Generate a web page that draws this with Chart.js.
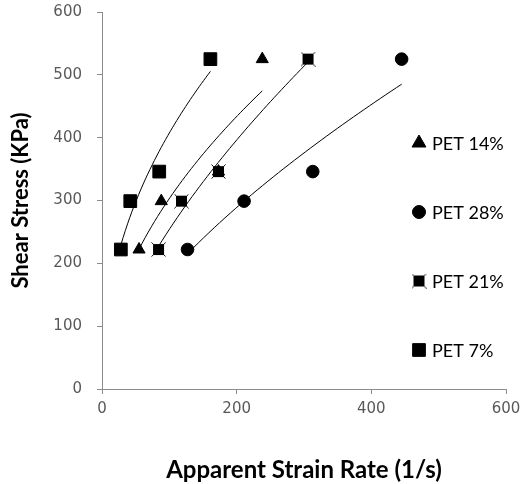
<!DOCTYPE html>
<html>
<head>
<meta charset="utf-8">
<script src="https://cdn.jsdelivr.net/npm/chart.js@4.4.1/dist/chart.umd.min.js"></script>
<style>
  html, body { margin: 0; padding: 0; background: #fff; }
  #wrap { width: 527px; height: 484px; position: relative; }
</style>
</head>
<body>
<div id="wrap"><canvas id="chart" width="527" height="484"></canvas></div>
<script>
document.addEventListener("DOMContentLoaded", function () {

  // shear stress levels (KPa), shared by every series
  const STRESS = [222, 299, 346, 525];

  // apparent strain rate (1/s) read for each series
  const PET7 = [28, 42, 85, 161];
  const PET14 = [55, 88, 173, 238];
  const PET21 = [84, 118, 173, 306];
  const PET28 = [127, 211, 313, 445];

  const X_TICKS = [0, 200, 400, 600];
  const Y_TICKS = [0, 100, 200, 300, 400, 500, 600];

  // square with little x marks at the corners (PET 21%)
  function bowtie() {
    const c = document.createElement("canvas");
    c.width = 15; c.height = 15;
    const g = c.getContext("2d");
    g.fillStyle = "#000";
    g.fillRect(2, 2, 11, 11);
    g.strokeStyle = "#000";
    g.lineWidth = 1;
    g.beginPath();
    g.moveTo(0.5, 0.5); g.lineTo(14.5, 14.5);
    g.moveTo(14.5, 0.5); g.lineTo(0.5, 14.5);
    g.stroke();
    return c;
  }
  const BOWTIE = bowtie();

  const pts = (xs) => xs.map((x, i) => ({ x: x, y: STRESS[i] }));

  // Excel style power trendline y = a*x^b fitted on the series
  function powerFit(xs) {
    const lx = xs.map(Math.log), ly = STRESS.map(Math.log);
    const n = xs.length;
    const mx = lx.reduce((a, b) => a + b) / n, my = ly.reduce((a, b) => a + b) / n;
    let sxy = 0, sxx = 0;
    for (let i = 0; i < n; i++) { sxy += (lx[i] - mx) * (ly[i] - my); sxx += (lx[i] - mx) ** 2; }
    const b = sxy / sxx, a = Math.exp(my - b * mx);
    const out = [];
    const x0 = xs[0], x1 = xs[n - 1];
    for (let k = 0; k <= 40; k++) {
      const x = x0 + (x1 - x0) * k / 40;
      out.push({ x: x, y: a * Math.pow(x, b) });
    }
    return out;
  }

  const SERIES = [
    { label: "PET 14%", xs: PET14, style: "triangle", r: 7, lr: 8 },
    { label: "PET 28%", xs: PET28, style: "circle", r: 6.3, lr: 6.5 },
    { label: "PET 21%", xs: PET21, style: BOWTIE, r: 7, lr: 7 },
    { label: "PET 7%", xs: PET7, style: "rect", r: 9, lr: 9 }
  ];

  const datasets = [];
  SERIES.forEach(s => {
    datasets.push({
      label: s.label + " fit",
      data: powerFit(s.xs),
      showLine: true,
      borderColor: "#000",
      borderWidth: 1,
      pointRadius: 0,
      tension: 0,
      order: 2
    });
  });
  SERIES.forEach(s => {
    datasets.push({
      label: s.label,
      data: pts(s.xs),
      showLine: false,
      pointStyle: s.style,
      pointRadius: s.r,
      pointHoverRadius: s.r,
      backgroundColor: "#000",
      borderColor: "#000",
      borderWidth: 1,
      order: 1
    });
  });

  // legend drawn inside the plot area, on the right
  const sideLegend = {
    id: "sideLegend",
    afterDraw(chart) {
      const ctx = chart.ctx;
      const area = chart.chartArea;
      ctx.save();
      ctx.font = "18px Lato";
      ctx.fillStyle = "#000";
      ctx.textBaseline = "middle";
      SERIES.forEach((s, i) => {
        const x = area.right - 87;
        const y = area.top + 131 + i * 69;
        Chart.helpers.drawPoint(ctx, {
          pointStyle: s.style, radius: s.lr, borderWidth: 1, rotation: 0
        }, x, y);
        ctx.fillText(s.label, x + 13, y + 1);
      });
      ctx.restore();
    }
  };

  const axisGray = "#8c8c8c";
  const tickFont = { family: "DejaVu Sans", size: 15 };

  new Chart(document.getElementById("chart").getContext("2d"), {
    type: "scatter",
    data: { datasets: datasets },
    plugins: [sideLegend],
    options: {
      responsive: false,
      animation: false,
      layout: { padding: { left: 0, top: 12, right: 21, bottom: 0 } },
      plugins: { legend: { display: false }, tooltip: { enabled: false } },
      elements: { point: { backgroundColor: "#000", borderColor: "#000" } },
      scales: {
        x: {
          type: "linear", min: 0, max: 600,
          afterBuildTicks: (sc) => { sc.ticks = X_TICKS.map(v => ({ value: v })); },
          afterFit: (sc) => { sc.height = 95; sc.paddingLeft = 0; sc.paddingRight = 0; },
          grid: { drawOnChartArea: false, drawTicks: true, tickLength: 5, color: axisGray },
          border: { display: true, color: axisGray, width: 1 },
          ticks: { font: tickFont, color: "#595959", padding: 6 },
          title: { display: true, text: "Apparent Strain Rate (1/s)", font: { family: "Lato", size: 24, weight: "bold" }, color: "#000", padding: { top: 0, bottom: -1 } }
        },
        y: {
          type: "linear", min: 0, max: 600,
          afterBuildTicks: (sc) => { sc.ticks = Y_TICKS.map(v => ({ value: v })); },
          afterFit: (sc) => { sc.width = 102; sc.paddingTop = 0; sc.paddingBottom = 0; },
          grid: { drawOnChartArea: false, drawTicks: true, tickLength: 5, color: axisGray },
          border: { display: true, color: axisGray, width: 1 },
          ticks: { font: tickFont, color: "#595959", padding: 15 },
          title: { display: true, text: "Shear Stress (KPa)", font: { family: "Lato", size: 22, weight: "bold" }, color: "#000", padding: { top: 8, bottom: 0 } }
        }
      }
    }
  });

});
</script>
</body>
</html>
